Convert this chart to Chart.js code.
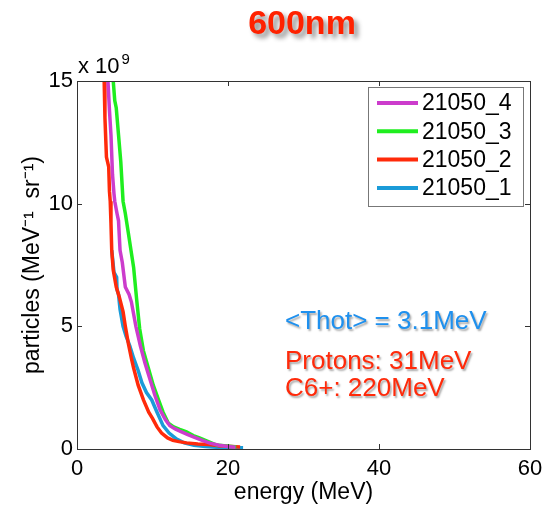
<!DOCTYPE html>
<html>
<head>
<meta charset="utf-8">
<script src="https://cdn.jsdelivr.net/npm/chart.js@4.4.0/dist/chart.umd.min.js"></script>
<style>
  html, body { margin: 0; padding: 0; background: #fff; }
  #wrap { position: relative; width: 544px; height: 508px; }
</style>
</head>
<body>
<div id="wrap"><canvas id="spectrum"></canvas></div>
<script>
// shot labels, drawn in this order (last one on top)
const seriesLabels = ['21050_4', '21050_3', '21050_2', '21050_1'];
const seriesColors = ['#cc3ccc', '#1fee1f', '#ff2a0a', '#1a9bd8'];

// energy (MeV) and particles (x 1e9 MeV^-1 sr^-1) per shot
const energy4 = [3.9, 4.1, 4.3, 4.5, 4.7, 4.9, 5.0, 5.3, 5.5, 5.7, 6.0, 6.4, 6.9, 7.2, 7.8, 8.4, 9.0, 9.6, 10.3, 11.0, 11.7, 12.3, 13.0, 13.7, 14.6, 15.5, 16.5, 17.6, 18.8, 20.0, 21.0];
const counts4 = [16, 15, 13.8, 12.8, 11.2, 10.4, 10.1, 9.6, 9.3, 8.1, 7.6, 6.6, 6.3, 6.0, 5.0, 4.2, 3.5, 2.9, 2.2, 1.6, 1.2, 0.95, 0.82, 0.72, 0.6, 0.48, 0.36, 0.24, 0.15, 0.1, 0.07];

const energy3 = [4.6, 4.8, 5.0, 5.2, 5.5, 5.8, 6.1, 6.4, 6.8, 7.2, 7.5, 7.9, 8.3, 8.8, 9.4, 10.1, 10.8, 11.4, 12.1, 12.8, 13.6, 14.5, 15.4, 16.3, 17.4, 18.5, 19.8, 21.1];
const counts3 = [16, 15, 14.2, 13.9, 12.8, 11.7, 10.1, 9.6, 8.8, 8.0, 7.4, 6.1, 4.9, 4.0, 3.35, 2.6, 2.0, 1.5, 1.05, 0.9, 0.8, 0.7, 0.55, 0.44, 0.3, 0.16, 0.12, 0.08];

const energy2 = [3.4, 3.6, 3.7, 3.9, 4.2, 4.3, 4.4, 4.5, 4.6, 4.8, 5.2, 5.6, 6.1, 6.4, 6.8, 7.2, 7.5, 8.1, 8.8, 9.5, 10.0, 10.6, 11.2, 12.0, 12.7, 13.5, 14.5, 16.0, 17.5, 19.0, 20.5, 21.6];
const counts2 = [16, 15, 13.5, 11.9, 11.5, 10.5, 10.1, 9.2, 8.1, 7.3, 6.6, 6.2, 5.6, 5.0, 4.3, 3.7, 3.3, 2.6, 2.0, 1.5, 1.25, 0.9, 0.65, 0.45, 0.35, 0.3, 0.25, 0.2, 0.18, 0.12, 0.1, 0.08];

const energy1 = [4.6, 4.9, 5.25, 5.3, 5.5, 5.7, 6.1, 6.5, 7.0, 7.5, 8.1, 8.6, 9.2, 9.9, 10.6, 11.4, 12.2, 13.2, 14.2, 15.5, 17.0, 18.5, 20.0, 22.0];
const counts1 = [8.1, 7.2, 7.0, 6.5, 6.3, 5.7, 5.0, 4.6, 4.2, 3.7, 3.2, 2.7, 2.3, 2.0, 1.5, 0.95, 0.65, 0.4, 0.25, 0.15, 0.1, 0.07, 0.06, 0.05];

const xTicks = [0, 20, 40, 60];
const yTicks = [0, 5, 10, 15];

const FONT = "'Liberation Sans', Arial, Helvetica, sans-serif";

function toPoints(xs, ys) {
    return xs.map((x, i) => ({ x: x, y: ys[i] }));
}

const curves = [[energy4, counts4], [energy3, counts3], [energy2, counts2], [energy1, counts1]];

const datasets = curves.map((c, i) => ({
    label: seriesLabels[i],
    data: toPoints(c[0], c[1]),
    borderColor: seriesColors[i],
    backgroundColor: seriesColors[i],
    borderWidth: 3.5,
    pointRadius: 0,
    tension: 0,
    fill: false
}));

// frame, inward ticks, exponent, legend box, notes and heading
const decorations = {
    id: 'decorations',
    afterDatasetsDraw(chart) {
        const ctx = chart.ctx;
        const a = chart.chartArea;
        const xs = chart.scales.x, ys = chart.scales.y;
        ctx.save();
        ctx.strokeStyle = '#333';
        ctx.lineWidth = 1;
        ctx.strokeRect(a.left + 0.5, a.top + 0.5, a.right - a.left, a.bottom - a.top);
        ctx.beginPath();
        xTicks.slice(1, -1).forEach(v => {
            const px = Math.round(xs.getPixelForValue(v)) + 0.5;
            ctx.moveTo(px, a.bottom); ctx.lineTo(px, a.bottom - 5);
            ctx.moveTo(px, a.top); ctx.lineTo(px, a.top + 5);
        });
        yTicks.slice(1, -1).forEach(v => {
            const py = Math.round(ys.getPixelForValue(v)) + 0.5;
            ctx.moveTo(a.left, py); ctx.lineTo(a.left + 5, py);
            ctx.moveTo(a.right, py); ctx.lineTo(a.right - 5, py);
        });
        ctx.stroke();
        ctx.restore();
    },
    afterDraw(chart) {
        const ctx = chart.ctx;
        const a = chart.chartArea;
        ctx.save();

        // x 10^9 above the y axis
        ctx.fillStyle = '#000';
        ctx.textBaseline = 'alphabetic';
        ctx.textAlign = 'left';
        ctx.font = '22px ' + FONT;
        ctx.fillText('x 10', a.left + 1, a.top - 8);
        const w = ctx.measureText('x 10').width;
        ctx.font = '15px ' + FONT;
        ctx.fillText('9', a.left + 3 + w, a.top - 17);

        // legend
        const lx = 368, ly = 87, lw = 155, lh = 119;
        ctx.fillStyle = '#fff';
        ctx.fillRect(lx, ly, lw, lh);
        ctx.strokeStyle = '#777';
        ctx.lineWidth = 1;
        ctx.strokeRect(lx + 0.5, ly + 0.5, lw, lh);
        ctx.font = '23px ' + FONT;
        ctx.textBaseline = 'middle';
        chart.data.datasets.forEach((ds, i) => {
            const cy = 103 + i * 28.3;
            ctx.strokeStyle = ds.borderColor;
            ctx.lineWidth = 4;
            ctx.beginPath();
            ctx.moveTo(377, cy); ctx.lineTo(418, cy);
            ctx.stroke();
            ctx.fillStyle = '#000';
            ctx.fillText(ds.label, 422, cy + 1);
        });

        // notes with a soft drop shadow
        ctx.shadowColor = 'rgba(0,0,0,0.35)';
        ctx.shadowOffsetX = 1.5;
        ctx.shadowOffsetY = 1.5;
        ctx.shadowBlur = 2;
        ctx.font = '26px ' + FONT;
        ctx.fillStyle = '#1e90ee';
        ctx.fillText('<Thot> = 3.1MeV', 285, 322);
        ctx.fillStyle = '#ff2a0a';
        ctx.fillText('Protons: 31MeV', 285, 362);
        ctx.fillText('C6+: 220MeV', 285, 389);

        // heading
        ctx.shadowColor = 'rgba(0,0,0,0.45)';
        ctx.shadowOffsetX = 4;
        ctx.shadowOffsetY = 4;
        ctx.shadowBlur = 5;
        ctx.font = 'bold 34px ' + FONT;
        ctx.textAlign = 'center';
        ctx.fillStyle = '#ff2200';
        ctx.fillText('600nm', 302, 25);
        ctx.restore();
    }
};

const config = {
    type: 'line',
    data: { datasets: datasets },
    options: {
        responsive: true,
        maintainAspectRatio: false,
        animation: false,
        layout: { padding: { top: 81, right: 14, left: 0, bottom: 0 } },
        plugins: {
            legend: { display: false },
            title: { display: false },
            tooltip: { enabled: false }
        },
        scales: {
            x: {
                type: 'linear',
                min: 0,
                max: 60,
                afterBuildTicks: s => { s.ticks = xTicks.map(v => ({ value: v })); },
                afterFit: s => { s.height = 59; s.paddingLeft = 0; s.paddingRight = 0; },
                grid: { display: false, drawTicks: false },
                border: { display: false },
                ticks: {
                    padding: 7,
                    color: '#000',
                    maxRotation: 0,
                    font: { size: 22, family: FONT }
                },
                title: {
                    display: true,
                    text: 'energy (MeV)',
                    color: '#000',
                    font: { size: 23, family: FONT },
                    padding: { top: 0, bottom: 2 }
                }
            },
            y: {
                min: 0,
                max: 15,
                afterBuildTicks: s => { s.ticks = yTicks.map(v => ({ value: v })); },
                afterFit: s => { s.width = 77; s.paddingTop = 0; s.paddingBottom = 0; },
                grid: { display: false, drawTicks: false },
                border: { display: false },
                ticks: {
                    padding: 4,
                    color: '#000',
                    font: { size: 22, family: FONT }
                },
                title: {
                    display: true,
                    text: 'particles (MeV\u207B\u00B9  sr\u207B\u00B9)',
                    color: '#000',
                    font: { size: 23, family: FONT },
                    padding: { top: 19, bottom: 0 }
                }
            }
        }
    },
    plugins: [decorations]
};

const spectrumChart = new Chart(document.getElementById('spectrum'), config);
</script>
</body>
</html>
